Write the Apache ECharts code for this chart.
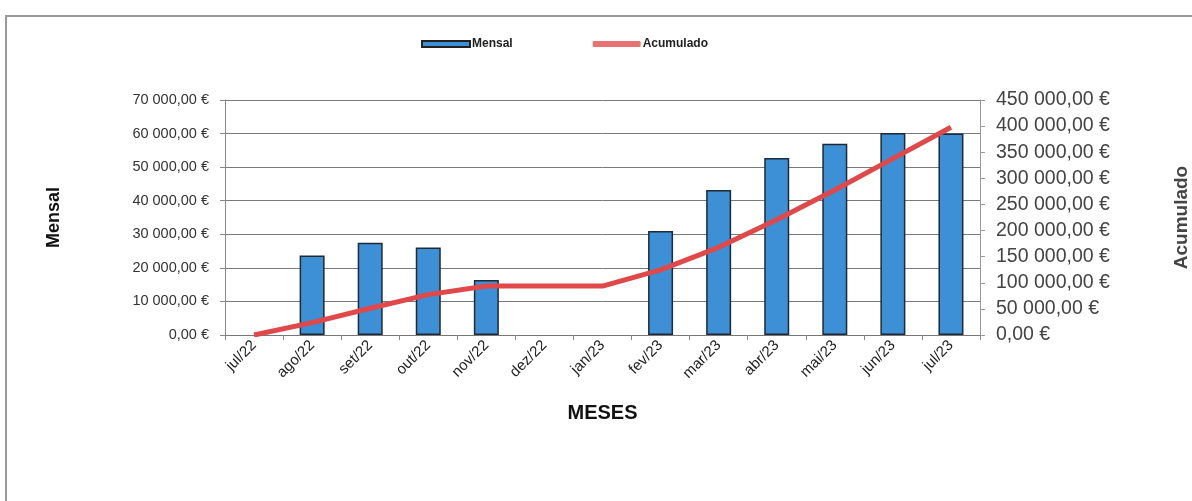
<!DOCTYPE html>
<html>
<head>
<meta charset="utf-8">
<style>
  html, body { margin: 0; padding: 0; background: #fff; }
  #chart { width: 1192px; height: 501px; }
</style>
<script src="https://cdn.jsdelivr.net/npm/echarts@6/dist/echarts.min.js"></script>
</head>
<body>
<div id="chart"></div>
<script>
// Months of the period
var months = ['jul/22', 'ago/22', 'set/22', 'out/22', 'nov/22', 'dez/22', 'jan/23',
              'fev/23', 'mar/23', 'abr/23', 'mai/23', 'jun/23', 'jul/23'];

// Monthly amounts (€)
var mensal = [0, 23700, 27500, 26100, 16400, 0, 0, 31000, 43200, 52700, 57000, 60200, 60000];

// Running total (€)
var acumulado = [0, 23700, 51200, 77300, 93700, 93700, 93700, 124700, 167900, 220600, 277600, 337800, 397800];

function euro(v) {
  var s = Math.round(v).toString().replace(/\B(?=(\d{3})+(?!\d))/g, ' ');
  return s + ',00 €';
}

// Empty months get no bar at all (avoids a flat outlined sliver)
var barData = mensal.map(function (v) { return v === 0 ? '-' : v; });

var chart = echarts.init(document.getElementById('chart'));
chart.setOption({
  backgroundColor: '#ffffff',
  animation: false,
  textStyle: { fontFamily: 'Liberation Sans, Arial, sans-serif' },
  graphic: [{
    type: 'rect',
    shape: { x: 6, y: 16, width: 1200, height: 500 },
    style: { fill: 'none', stroke: '#9a9a9a', lineWidth: 2 }
  }],
  legend: {
    top: 33,
    left: 416,
    itemGap: 80,
    itemWidth: 48,
    itemHeight: 6,
    textStyle: { fontSize: 12, fontWeight: 'bold', color: '#222', padding: [0, 0, 0, -3] },
    data: [
      { name: 'Mensal', icon: 'rect', itemStyle: { color: '#3d8fd6', borderColor: '#222', borderWidth: 2 } },
      { name: 'Acumulado', icon: 'roundRect', itemStyle: { color: '#e87272' } }
    ]
  },
  grid: { left: 225, right: 212, top: 100, bottom: 166, containLabel: false, outerBoundsMode: 'none' },
  xAxis: {
    type: 'category',
    data: months,
    name: 'MESES',
    nameLocation: 'middle',
    nameGap: 68,
    nameTextStyle: { fontSize: 20, fontWeight: 'bold', color: '#111' },
    axisLine: { lineStyle: { color: '#777' } },
    axisTick: { show: true, lineStyle: { color: '#888' } },
    axisLabel: { rotate: 45, fontSize: 15, color: '#222', margin: 8 }
  },
  yAxis: [{
    type: 'value',
    min: 0, max: 70000, interval: 10000,
    name: 'Mensal',
    nameLocation: 'middle',
    nameGap: 162,
    nameRotate: 90,
    nameTextStyle: { fontSize: 18, fontWeight: 'bold', color: '#111' },
    axisLine: { show: true, lineStyle: { color: '#888' } },
    axisTick: { show: true, lineStyle: { color: '#888' } },
    axisLabel: { fontSize: 14.5, color: '#333', formatter: euro, margin: 16 },
    splitLine: { show: true, lineStyle: { color: '#7a7a7a', width: 1 } }
  }, {
    type: 'value',
    min: 0, max: 450000, interval: 50000,
    name: 'Acumulado',
    nameLocation: 'middle',
    nameGap: 192,
    nameRotate: 90,
    nameTextStyle: { fontSize: 19, fontWeight: 'bold', color: '#444' },
    axisLine: { show: true, lineStyle: { color: '#999' } },
    axisTick: { show: true, lineStyle: { color: '#999' } },
    axisLabel: { fontSize: 19.5, color: '#444', formatter: euro, margin: 16 },
    splitLine: { show: false }
  }],
  series: [{
    name: 'Mensal',
    type: 'bar',
    yAxisIndex: 0,
    data: barData,
    barWidth: 25,
    itemStyle: { color: '#3d8fd6', borderColor: '#1e2a36', borderWidth: 1.5 }
  }, {
    name: 'Acumulado',
    type: 'line',
    yAxisIndex: 1,
    data: acumulado,
    symbol: 'none',
    z: 5,
    lineStyle: { color: '#e0484a', width: 5 },
    itemStyle: { color: '#e87272' }
  }]
});
</script>
</body>
</html>
